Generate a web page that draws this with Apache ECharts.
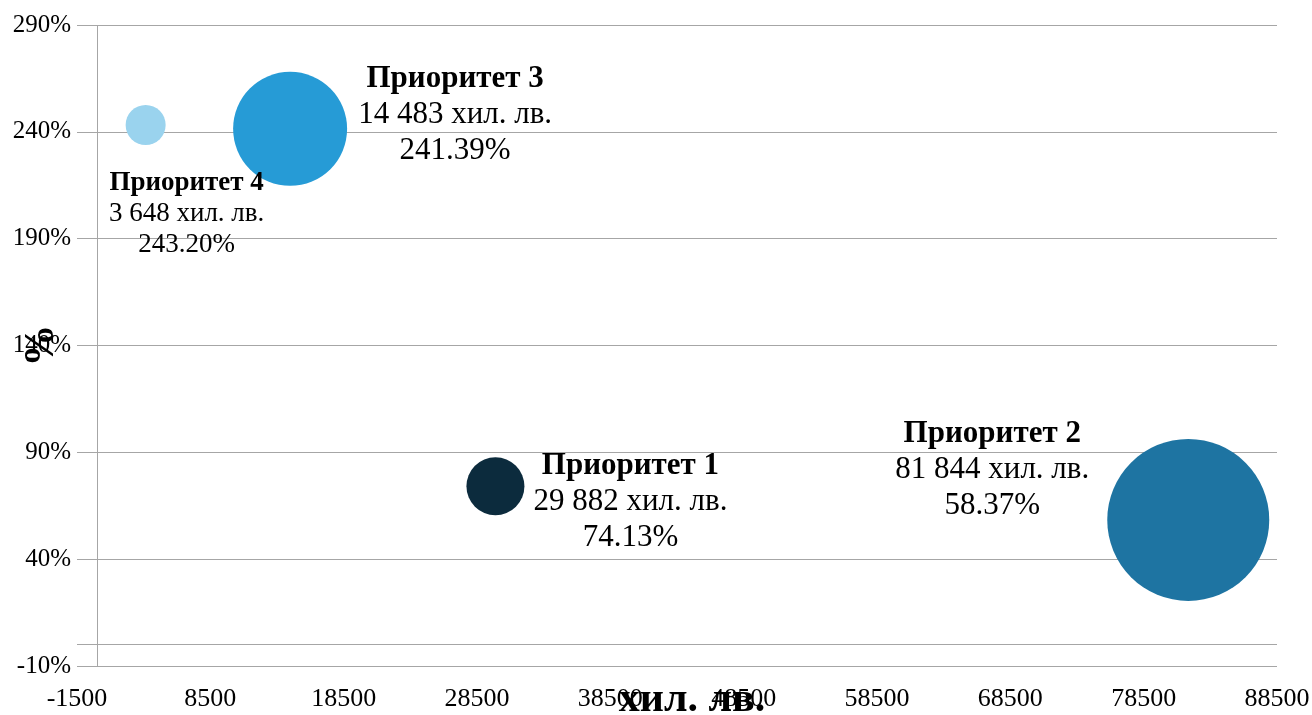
<!DOCTYPE html>
<html>
<head>
    <meta charset="UTF-8">
    <title>Приоритети</title>
    <script src="https://cdn.jsdelivr.net/npm/echarts@6/dist/echarts.min.js"></script>
    <style>
        html, body { margin: 0; padding: 0; background: #fff; }
        #chart { width: 1312px; height: 715px; }
    </style>
</head>
<body>
    <div id="chart"></div>
    <script>
        // данни
        var names = ['Приоритет 1', 'Приоритет 2', 'Приоритет 3', 'Приоритет 4'];
        var amounts = [29882, 81844, 14483, 3648];      // хил. лв.
        var percents = [74.13, 58.37, 241.39, 243.20];  // %
        var bubbleSizes = [841, 6561, 3249, 400];       // размер на балона
        var colors = ['#0c2b3d', '#1e74a2', '#269bd6', '#9ad3ee'];
        var xTicks = { min: -1500, max: 88500, step: 10000 };
        var yTicks = { min: -10, max: 290, step: 50 };

        // отместване на етикетите спрямо центъра на балона
        var labelOffsets = [[135, 16], [-196, -50], [165, -14], [41, 89]];
        var labelSizes = [31, 31, 31, 27];
        var labelLines = [36, 36, 36, 31];

        var font = '"Liberation Serif", "Times New Roman", serif';

        function fmt(n) {
            return String(n).replace(/\B(?=(\d{3})+(?!\d))/g, ' ');
        }

        var data = names.map(function (n, i) {
            var fs = labelSizes[i];
            var lh = labelLines[i];
            return {
                name: n,
                value: [amounts[i], percents[i], bubbleSizes[i]],
                symbolSize: 2 * Math.sqrt(bubbleSizes[i]),
                itemStyle: { color: colors[i], opacity: 1 },
                label: {
                    show: true,
                    position: 'inside',
                    offset: labelOffsets[i],
                    align: 'center',
                    color: '#000',
                    formatter: '{t|' + n + '}\n{v|' + fmt(amounts[i]) + ' хил. лв.}\n{v|' + percents[i].toFixed(2) + '%}',
                    rich: {
                        t: { fontFamily: font, fontSize: fs, fontWeight: 'bold', color: '#000', lineHeight: lh, align: 'center' },
                        v: { fontFamily: font, fontSize: fs, color: '#000', lineHeight: lh, align: 'center' }
                    }
                }
            };
        });

        var chart = echarts.init(document.getElementById('chart'));
        var option = {
            animation: false,
            grid: { left: 77, right: 35, top: 25, bottom: 49, outerBoundsMode: 'none', containLabel: false },
            xAxis: {
                type: 'value',
                min: xTicks.min,
                max: xTicks.max,
                interval: xTicks.step,
                name: 'хил. лв.',
                nameLocation: 'middle',
                nameGap: 13,
                nameMoveOverlap: false,
                nameTextStyle: { fontFamily: font, fontSize: 42, fontWeight: 'bold', color: '#000', padding: [0, 0, 0, 30] },
                axisLine: { show: false },
                axisTick: { show: false },
                splitLine: { show: false },
                axisLabel: {
                    fontFamily: font, fontSize: 26, color: '#000', margin: 20,
                    formatter: function (v) { return String(v); }
                }
            },
            yAxis: {
                type: 'value',
                min: yTicks.min,
                max: yTicks.max,
                interval: yTicks.step,
                name: '%',
                nameLocation: 'middle',
                nameGap: 14,
                nameMoveOverlap: false,
                nameTextStyle: { fontFamily: font, fontSize: 42, fontWeight: 'bold', color: '#000' },
                axisLine: { show: false },
                axisTick: { show: false },
                splitLine: { show: true, lineStyle: { color: '#a6a6a6', width: 1 } },
                axisLabel: { fontFamily: font, fontSize: 25, color: '#000', margin: 6, formatter: '{value}%' }
            },
            series: [{
                type: 'scatter',
                data: data,
                emphasis: { disabled: true },
                markLine: {
                    silent: true,
                    symbol: 'none',
                    label: { show: false },
                    lineStyle: { color: '#a6a6a6', width: 1, type: 'solid' },
                    data: [{ xAxis: 0 }, { yAxis: 0 }]
                }
            }]
        };
        chart.setOption(option);
    </script>
</body>
</html>
